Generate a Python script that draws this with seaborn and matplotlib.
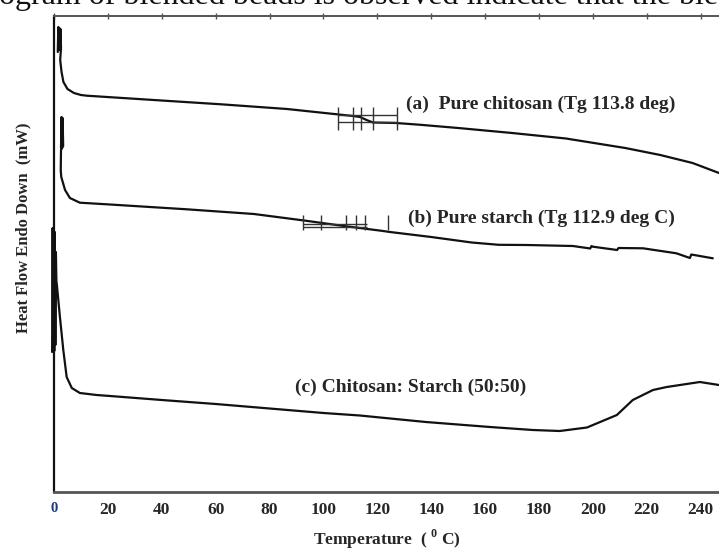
import numpy as np
import pandas as pd
import matplotlib
matplotlib.use("Agg")
import matplotlib.pyplot as plt
import seaborn as sns

# ---- data ----
temp_a = [1.4, 1.6, 1.8, 2.0, 2.2, 2.4, 2.6, 2.3, 2.8, 3.5, 5.0, 7.4, 10, 12.2, 37, 62, 86.5,
          105, 111, 113.6, 116, 118.4, 127, 136, 150, 170, 190, 212, 225, 237, 246.8]
flow_a = [44.0, 46.5, 44.2, 46.4, 44.2, 46.3, 44.4, 43.2, 42.0, 41.0, 40.3, 39.9, 39.7, 39.63,
          39.2, 38.77, 38.3, 37.77, 37.6, 37.5, 37.2, 36.95, 36.9, 36.72, 36.4, 35.9, 35.35,
          34.4, 33.7, 32.9, 31.9]

temp_b = [2.6, 2.8, 3.0, 3.2, 3.4, 3.0, 2.6, 2.5, 2.7, 4.1, 5.9, 9.6, 20.8, 49.3, 74.2, 92.8,
          107.6, 112, 121.3, 124.7, 140, 155, 165, 175.5, 192.6, 199, 199.5, 200, 209, 209.5,
          218.6, 231, 236, 236.5, 244.5]
flow_b = [34.4, 37.5, 34.5, 37.4, 34.6, 34.4, 34.2, 32.2, 31.5, 30.2, 29.4, 28.93, 28.75, 28.27,
          27.8, 27.15, 26.6, 26.45, 26.13, 26.0, 25.5, 24.95, 24.72, 24.7, 24.6, 24.35, 24.6,
          24.53, 24.2, 24.4, 24.37, 23.87, 23.4, 23.75, 23.37]

temp_c = [-0.7, -0.5, -0.3, -0.1, 0.1, 0.3, 0.5, 0.7, 0.9, 1.0, 2.2, 3.45, 4.7, 6.6, 9.6, 15.8,
          20.8, 40, 60, 80, 100, 113.5, 138, 161.8, 177.7, 187.7, 197.8, 208.9, 214.8, 222.3,
          227.4, 239.7, 246.8]
flow_c = [14.0, 26.4, 14.2, 26.2, 14.1, 26.0, 14.7, 24.0, 21.0, 20.9, 17.5, 14.2, 11.5, 10.4,
          9.9, 9.7, 9.6, 9.2, 8.8, 8.35, 7.9, 7.65, 7.0, 6.5, 6.2, 6.1, 6.45, 7.7, 9.2, 10.2,
          10.5, 11.0, 10.7]

curve_labels = ["(a)  Pure chitosan (Tg 113.8 deg)",
                "(b) Pure starch (Tg 112.9 deg C)",
                "(c) Chitosan: Starch (50:50)"]

# Tg analysis markers
tg_a_ticks = [105.4, 111, 113.9, 118.4, 127.3]
tg_a_box = [37.7, 37.03]
tg_a_span = [36.2, 38.5]
tg_b_ticks = [92.4, 99, 108.3, 112, 115.5, 124]
tg_b_box = [26.8, 26.5]
tg_b_span = [26.2, 27.7]

x_ticks = [0, 20, 40, 60, 80, 100, 120, 140, 160, 180, 200, 220, 240]
y_ticks = [44.7, 39.8, 34.9, 29.9, 24.2, 18.7, 13.4, 7.3]

# ---- build frame ----
df = pd.concat([
    pd.DataFrame({"T": temp_a, "flow": flow_a, "curve": "a"}),
    pd.DataFrame({"T": temp_b, "flow": flow_b, "curve": "b"}),
    pd.DataFrame({"T": temp_c, "flow": flow_c, "curve": "c"}),
], ignore_index=True)

sns.set_theme(style="white")
plt.rcParams["font.family"] = ["Liberation Serif", "DejaVu Serif"]
plt.rcParams["mathtext.fontset"] = "custom"
plt.rcParams["mathtext.rm"] = "Liberation Serif"
plt.rcParams["mathtext.bf"] = "Liberation Serif:bold"

fig = plt.figure(figsize=(7.19, 5.52), dpi=100)
ax = fig.add_axes([54 / 719, 60 / 552, 665 / 719, 476 / 552])

sns.lineplot(data=df, x="T", y="flow", hue="curve", palette=["#111111"] * 3,
             estimator=None, sort=False, linewidth=1.6, legend=False, ax=ax)
for ln in ax.get_lines():
    ln.set_clip_on(False)

# Tg markers
mk = dict(color="#333333", linewidth=1.0)
ax.hlines(tg_a_box, tg_a_ticks[0], tg_a_ticks[-1], **mk)
ax.vlines(tg_a_ticks, tg_a_span[0], tg_a_span[1], **mk)
ax.hlines(tg_b_box, tg_b_ticks[0], tg_b_ticks[3] + 4, **mk)
ax.vlines(tg_b_ticks, tg_b_span[0], tg_b_span[1], **mk)

# annotations
ax.text(130.5, 38.8, curve_labels[0], fontsize=14, fontweight="bold", va="center", ha="left")
ax.text(131.5, 27.4, curve_labels[1], fontsize=14, fontweight="bold", va="center", ha="left")
ax.text(89.5, 10.5, curve_labels[2], fontsize=14, fontweight="bold", va="center", ha="left")

ax.set_xlim(0, 246.8)
ax.set_ylim(0, 47.6)
ax.set_xticks(x_ticks)
ax.set_xticklabels([str(t) for t in x_ticks], fontsize=12.5, fontweight="bold")
ax.get_xticklabels()[0].set_color("#1a3a78")
ax.get_xticklabels()[0].set_fontsize(10.5)
ax.set_yticks(y_ticks)
ax.set_yticklabels([])
ax.tick_params(axis="x", direction="inout", length=5, width=1, color="#555555", pad=5)
ax.tick_params(axis="y", direction="out", length=4, width=0.8, color="#666666")
ax.tick_params(axis="x", which="both", top=True, labeltop=False)
for t in ax.xaxis.get_major_ticks():
    t.tick2line.set_markersize(5)
    t.tick2line.set_color("#aaaaaa")

ax.spines["left"].set_color("#111111")
ax.spines["left"].set_linewidth(1.6)
ax.spines["bottom"].set_color("#555555")
ax.spines["bottom"].set_linewidth(2.0)
ax.spines["top"].set_color("#555555")
ax.spines["top"].set_linewidth(1.4)
ax.spines["right"].set_visible(False)

ax.set_xlabel(r"Temperature  ( $^{\mathbf{0}}$ C)", fontsize=12.5, fontweight="bold", labelpad=7)
ax.set_ylabel("Heat Flow Endo Down  (mW)", fontsize=12, fontweight="bold")
ax.yaxis.set_label_coords(-23 / 665, (492 - 228) / 476)

# cropped page text at the very top
fig.text(-0.002, 1 - 4 / 552, "ogram of blended beads is observed indicate that the ble",
         fontsize=23, va="baseline", ha="left", color="#111111")

fig.savefig("out.png", dpi=100)
